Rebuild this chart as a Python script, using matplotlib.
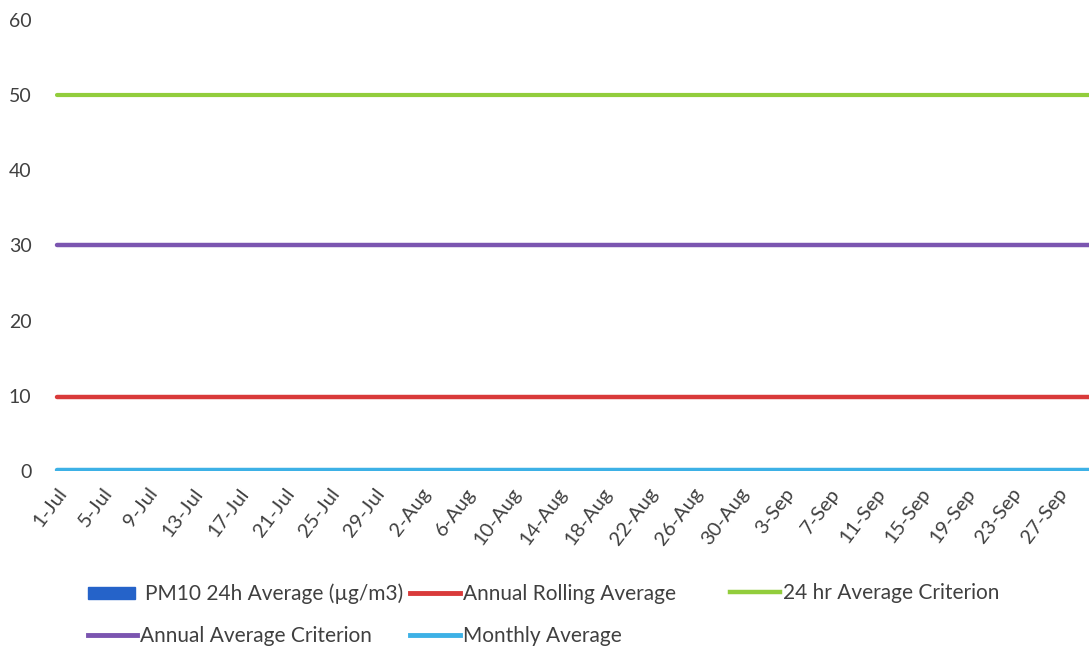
import datetime as dt
import matplotlib
matplotlib.use("Agg")
import matplotlib.pyplot as plt
from matplotlib.lines import Line2D
from matplotlib.patches import Patch

# Daily categories 1 Jul – 30 Sep
start = dt.date(2021, 7, 1)
dates = [start + dt.timedelta(days=i) for i in range(92)]
date_labels = [f"{d.day}-{d.strftime('%b')}" for d in dates]

# Series levels (µg/m3)
annual_rolling_avg = 9.8
criterion_24h = 50
annual_criterion = 30
monthly_avg = 0.1

y_ticks = [0, 10, 20, 30, 40, 50, 60]

c_pm10 = "#2563C9"
c_roll = "#D93A3A"
c_24h = "#92CD3C"
c_ann = "#7B55B0"
c_mon = "#3DB1E6"
txt = "#404040"

plt.rcParams["font.family"] = ["Lato", "DejaVu Sans"]

fig = plt.figure(figsize=(10.89, 6.5), dpi=100)
ax = fig.add_axes([51 / 1089, 179 / 650, 1045 / 1089, 451 / 650])

x = list(range(len(dates)))
ax.plot(x, [criterion_24h] * len(x), color=c_24h, lw=3.0, solid_capstyle="round")
ax.plot(x, [annual_criterion] * len(x), color=c_ann, lw=3.2, solid_capstyle="round")
ax.plot(x, [annual_rolling_avg] * len(x), color=c_roll, lw=3.2, solid_capstyle="round")
ax.plot(x, [monthly_avg] * len(x), color=c_mon, lw=3.2, solid_capstyle="round")

ax.set_xlim(-0.5, len(dates) - 0.5)
ax.set_ylim(0, 60)
ax.set_yticks(y_ticks)
ax.set_yticklabels([str(v) for v in y_ticks], fontsize=14, color=txt)
tick_idx = x[::4]
ax.set_xticks(tick_idx)
ax.set_xticklabels([date_labels[i] for i in tick_idx], rotation=53, ha="right",
                   rotation_mode="anchor", fontsize=14.5, color=txt)
ax.tick_params(axis="both", length=0)
ax.tick_params(axis="y", pad=14)
ax.tick_params(axis="x", pad=10)
for s in ax.spines.values():
    s.set_visible(False)

FS = 15
px = FS * 100 / 72  # font size in pixels
legend_items = [
    (Patch(facecolor=c_pm10, edgecolor=c_pm10), "PM10 24h Average (\u00b5g/m3)", 88, 594, 47, 10),
    (Line2D([], [], color=c_roll, lw=3.5), "Annual Rolling Average", 410, 594, 50, 3),
    (Line2D([], [], color=c_24h, lw=3.2), "24 hr Average Criterion", 730, 593, 50, 3),
    (Line2D([], [], color=c_ann, lw=3.5), "Annual Average Criterion", 88, 636, 49, 3),
    (Line2D([], [], color=c_mon, lw=3.5), "Monthly Average", 410, 636, 50, 3),
]
for handle, label, hx, hy, hlen, gap in legend_items:
    fig.legend([handle], [label], loc="center left",
               bbox_to_anchor=(hx / 1089, 1 - hy / 650),
               frameon=False, fontsize=FS, labelcolor=txt,
               handlelength=hlen / px, handletextpad=gap / px, handleheight=0.5,
               borderaxespad=0, borderpad=0)

fig.savefig("out.png", dpi=100, facecolor="white")
